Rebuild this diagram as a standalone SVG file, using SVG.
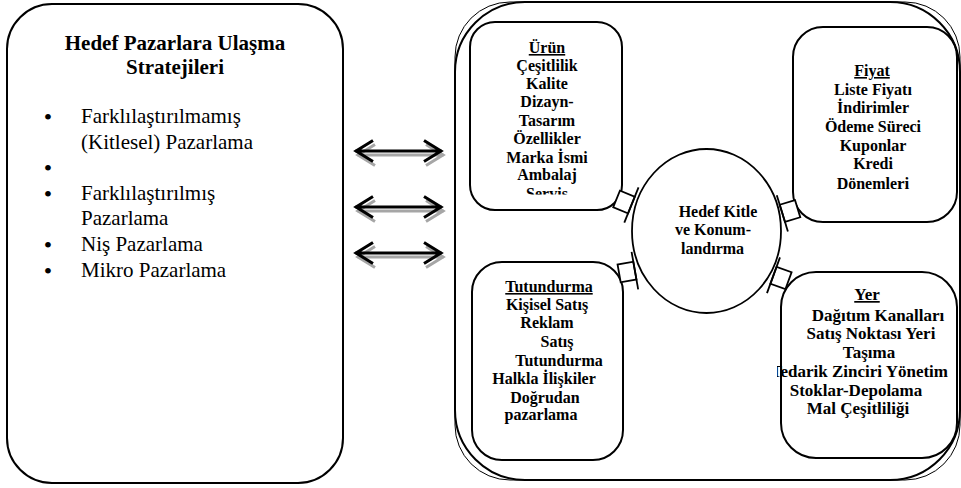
<svg xmlns="http://www.w3.org/2000/svg" width="961" height="488" viewBox="0 0 961 488">
<defs>
<style>
.box{fill:none;stroke:#000;stroke-width:2}
.t{fill:#000;font-family:"Liberation Serif","Times New Roman",serif}
.b{font-weight:bold;font-size:16px;text-anchor:middle}
.r{font-size:21px}
.bul{font-size:24px;text-anchor:middle}
.u{text-decoration:underline}
.arr{fill:none;stroke:#000;stroke-width:3;stroke-linecap:butt}
.sh{fill:none;stroke:#a6a6a6;stroke-width:3}
.con{fill:#fff;stroke:#000;stroke-width:1.8}
</style>
<clipPath id="clipUrun"><rect x="470" y="22" width="152" height="172.5"/></clipPath>
<clipPath id="clipYer"><rect x="777" y="272" width="180" height="186"/></clipPath>
<g id="dbl">
<path d="M355,0 H442 M373,-10.5 L356,0 L373,10.5 M424,-10.5 L441,0 L424,10.5"/>
</g>
</defs>
<rect width="961" height="488" fill="#fff"/>

<g id="left-box">
<rect class="box" x="7" y="4" width="336" height="479" rx="45" ry="45"/>
<text class="t" x="175" y="50" font-size="21" font-weight="bold" text-anchor="middle">Hedef Pazarlara Ulaşma</text>
<text class="t" x="175" y="74" font-size="21" font-weight="bold" text-anchor="middle">Stratejileri</text>
<g class="t bul">
<text x="48" y="125">•</text>
<text x="48" y="176">•</text>
<text x="48" y="202">•</text>
<text x="48" y="253">•</text>
<text x="48" y="279">•</text>
</g>
<g class="t r">
<text x="81" y="123">Farklılaştırılmamış</text>
<text x="81" y="148.5">(Kitlesel) Pazarlama</text>
<text x="81" y="200">Farklılaştırılmış</text>
<text x="81" y="225">Pazarlama</text>
<text x="81" y="251">Niş Pazarlama</text>
<text x="81" y="277">Mikro Pazarlama</text>
</g>
</g>

<g id="mix-frame">
<rect class="box" x="455" y="2" width="505" height="478" rx="70" ry="70"/>
<rect x="455" y="2" width="505" height="478" rx="55" ry="55" fill="none" stroke="#000" stroke-width="1"/>
</g>

<g id="urun">
<rect class="box" x="470" y="22" width="152" height="188" rx="25" ry="25" fill="#fff"/>
<g class="t b" clip-path="url(#clipUrun)">
<text x="547" y="53" class="u">Ürün</text>
<text x="547" y="71">Çeşitlilik</text>
<text x="547" y="89">Kalite</text>
<text x="547" y="107">Dizayn-</text>
<text x="547" y="126">Tasarım</text>
<text x="547" y="144">Özellikler</text>
<text x="547" y="163">Marka İsmi</text>
<text x="547" y="180">Ambalaj</text>
<text x="547" y="198.5">Servis</text>
</g>
</g>

<g id="fiyat">
<rect class="box" x="793" y="27" width="164" height="195" rx="30" ry="30" fill="#fff"/>
<g class="t b">
<text x="872" y="76" class="u">Fiyat</text>
<text x="873" y="95">Liste Fiyatı</text>
<text x="873" y="113">İndirimler</text>
<text x="873" y="132">Ödeme Süreci</text>
<text x="873" y="151">Kuponlar</text>
<text x="873" y="169">Kredi</text>
<text x="873" y="189">Dönemle<tspan font-size="17">ri</tspan></text>
</g>
</g>

<g id="tutundurma">
<rect class="box" x="472" y="262" width="151" height="198" rx="30" ry="30" fill="#fff"/>
<g class="t b">
<text x="549" y="292" class="u">Tutundurma</text>
<text x="547" y="310">Kişisel Satış</text>
<text x="547" y="328">Reklam</text>
<text x="557" y="347">Satış</text>
<text x="559" y="366">Tutundurma</text>
<text x="544" y="384">Halkla İlişkiler</text>
<text x="545" y="403">Doğrudan</text>
<text x="541" y="420">pazarlama</text>
</g>
</g>

<g id="yer">
<rect class="box" x="781" y="272" width="176" height="186" rx="35" ry="35" fill="#fff"/>
<g class="t b" style="font-size:17px" clip-path="url(#clipYer)">
<text x="867" y="300" class="u">Yer</text>
<text x="878" y="321">Dağıtım Kanalları</text>
<text x="871" y="339">Satış Noktası Yeri</text>
<text x="869" y="358">Taşıma</text>
<text x="948" y="377" style="text-anchor:end">Tedarik Zinciri Yönetim</text>
<text x="856" y="396">Stoklar-Depolama</text>
<text x="858" y="414">Mal Çeşitliliği</text>
</g>
</g>

<g id="target">
<ellipse cx="706.5" cy="231" rx="74.5" ry="82" fill="#fff" stroke="#000" stroke-width="1.8"/>
<g class="t b">
<text x="718" y="217">Hedef Kitle</text>
<text x="713" y="235">ve Konum-</text>
<text x="712.5" y="254">landırma</text>
</g>
</g>

<g id="connectors">
<g class="sh" transform="translate(2,4)">
<use href="#dbl" y="151"/>
<use href="#dbl" y="207"/>
<use href="#dbl" y="253"/>
</g>
<g class="arr">
<use href="#dbl" y="151"/>
<use href="#dbl" y="207"/>
<use href="#dbl" y="253"/>
</g>
<g class="con" transform="translate(624,202) rotate(22)">
<rect x="-8" y="-9" width="16" height="18"/><line x1="8" y1="-19" x2="8" y2="19"/>
</g>
<g class="con" transform="translate(627,272) rotate(-10)">
<rect x="-8" y="-9" width="16" height="18"/><line x1="8" y1="-19" x2="8" y2="19"/>
</g>
<g class="con" transform="translate(790,211) rotate(163)">
<rect x="-8" y="-9" width="16" height="18"/><line x1="8" y1="-19" x2="8" y2="19"/>
</g>
<g class="con" transform="translate(781,278) rotate(200)">
<rect x="-8" y="-9" width="16" height="18"/><line x1="8" y1="-19" x2="8" y2="19"/>
</g>
</g>
</svg>
